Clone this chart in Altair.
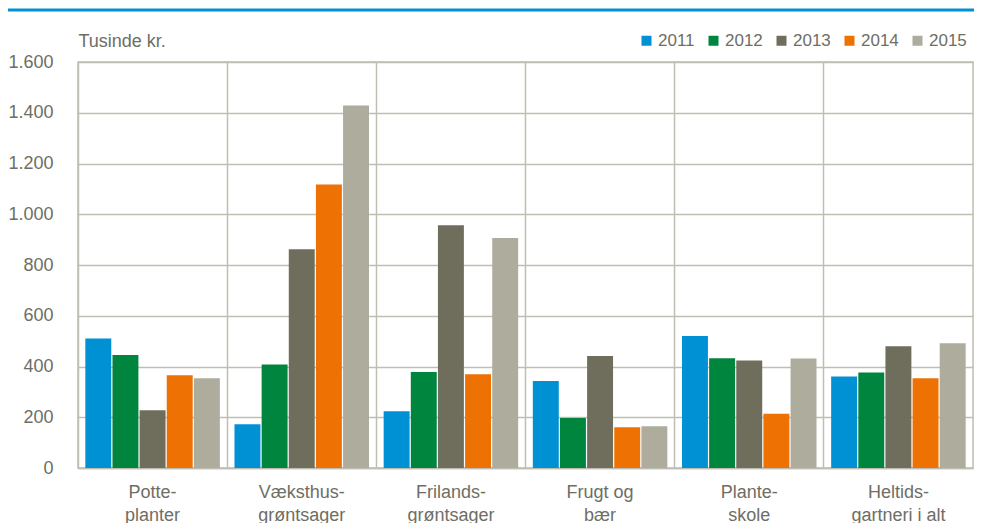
import altair as alt
import pandas as pd

categories = ["Potte-|planter", "Væksthus-|grøntsager", "Frilands-|grøntsager",
              "Frugt og|bær", "Plante-|skole", "Heltids-|gartneri i alt"]
years = ["2011", "2012", "2013", "2014", "2015"]
v2011 = [510, 172, 224, 343, 520, 361]
v2012 = [445, 408, 378, 197, 433, 376]
v2013 = [228, 862, 957, 441, 424, 480]
v2014 = [366, 1117, 369, 161, 214, 354]
v2015 = [354, 1429, 906, 165, 432, 492]
y_ticks = [0, 200, 400, 600, 800, 1000, 1200, 1400, 1600]
colors = ["#0091d4", "#00853e", "#6f6e5d", "#ee7203", "#aeac9c"]

series = [v2011, v2012, v2013, v2014, v2015]
rows = []
for yr, vals in zip(years, series):
    for cat, v in zip(categories, vals):
        rows.append({"category": cat, "year": yr, "value": v})
df = pd.DataFrame(rows)

W, H = 895, 406
TXT = "#6e6e64"
GRID = "#bfbeb2"
FONT = "'Liberation Sans', Arial, sans-serif"

bars = alt.Chart(df).mark_bar().encode(
    x=alt.X("category:N", sort=categories,
            scale=alt.Scale(paddingInner=0, paddingOuter=0),
            axis=alt.Axis(title=None, labelExpr="split(datum.value, '|')", labelAngle=0,
                          ticks=False, grid=True, bandPosition=0, gridColor=GRID,
                          gridWidth=1.5, domainColor=GRID, domainWidth=1.5,
                          labelFontSize=18, labelPadding=15, labelLineHeight=23,
                          labelBaseline="top", labelColor=TXT)),
    xOffset=alt.XOffset("year:N", sort=years,
                        scale=alt.Scale(paddingInner=0.044, paddingOuter=0.27)),
    y=alt.Y("value:Q", scale=alt.Scale(domain=[0, 1600], nice=False),
            axis=alt.Axis(values=y_ticks,
                          labelExpr="replace(format(datum.value, ','), ',', '.')",
                          title="Tusinde kr.", titleAngle=0, titleX=0, titleY=-16,
                          titleAlign="left", titleBaseline="alphabetic",
                          titleFontSize=18, titleFontWeight="normal", titleColor=TXT,
                          ticks=False, domain=False, labelPadding=25,
                          labelFontSize=18, labelColor=TXT,
                          gridColor=GRID, gridWidth=1.5)),
    color=alt.Color("year:N", sort=years,
                    scale=alt.Scale(domain=years, range=colors),
                    legend=alt.Legend(title=None, orient="none", legendX=560, legendY=-30,
                                      direction="horizontal", symbolType="square",
                                      symbolSize=100, symbolStrokeWidth=0,
                                      labelFontSize=17, labelColor=TXT, labelOffset=3,
                                      columnPadding=10)),
)

topline = alt.Chart(pd.DataFrame({"a": [0]})).mark_rule(
    color="#0091d4", strokeWidth=3).encode(
    x=alt.value(-70), x2=alt.value(W + 1), y=alt.value(-52))

chart = alt.layer(topline, bars).properties(
    width=W, height=H,
    autosize=alt.AutoSizeParams(type="none"),
    padding={"left": 70, "top": 54, "right": 1, "bottom": 55},
).configure(font=FONT).configure_view(stroke=GRID, strokeWidth=1.5)

chart.save("out.html", embed_options={"renderer": "svg", "actions": False})
